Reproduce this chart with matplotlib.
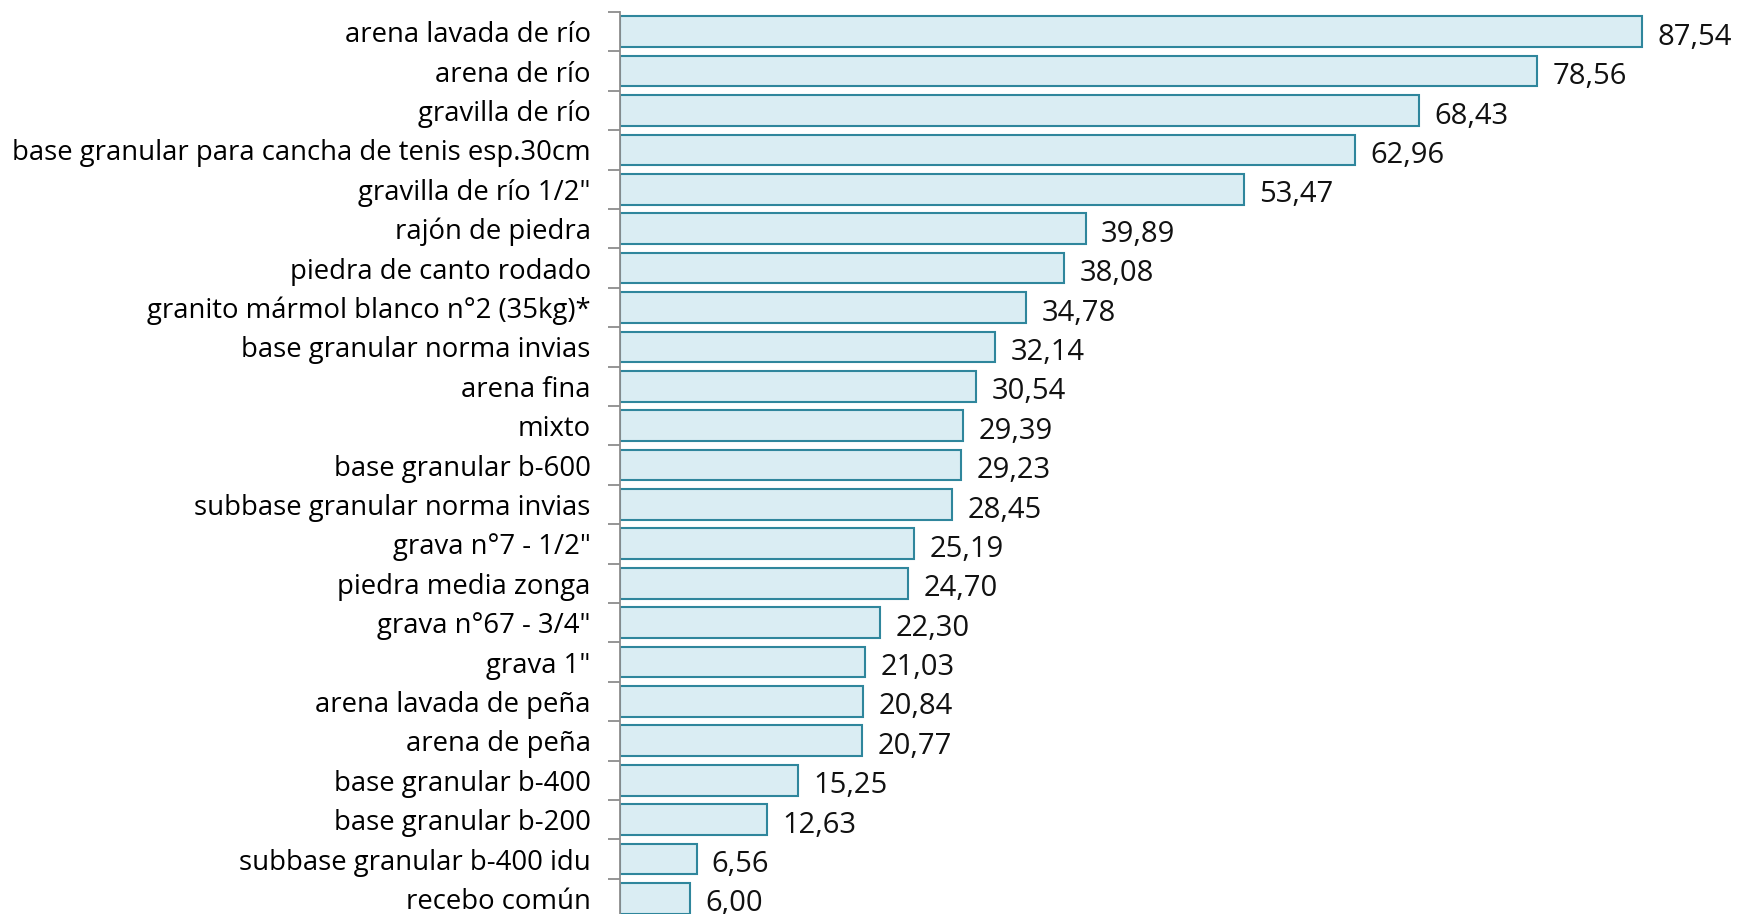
import matplotlib.pyplot as plt
from matplotlib.ticker import FixedLocator

plt.rcParams["font.family"] = ["Open Sans", "DejaVu Sans"]

materiales = [
    "arena lavada de río",
    "arena de río",
    "gravilla de río",
    "base granular para cancha de tenis esp.30cm",
    "gravilla de río 1/2\"",
    "rajón de piedra",
    "piedra de canto rodado",
    "granito mármol blanco n°2 (35kg)*",
    "base granular norma invias",
    "arena fina",
    "mixto",
    "base granular b-600",
    "subbase granular norma invias",
    "grava n°7 - 1/2\"",
    "piedra media zonga",
    "grava n°67 - 3/4\"",
    "grava 1\"",
    "arena lavada de peña",
    "arena de peña",
    "base granular b-400",
    "base granular b-200",
    "subbase granular b-400 idu",
    "recebo común",
]
valores = [87.54, 78.56, 68.43, 62.96, 53.47, 39.89, 38.08, 34.78, 32.14,
           30.54, 29.39, 29.23, 28.45, 25.19, 24.70, 22.30, 21.03, 20.84,
           20.77, 15.25, 12.63, 6.56, 6.00]


def main() -> None:
    fig = plt.figure(figsize=(17.37, 9.14), dpi=100)
    # axes runs slightly below the figure edge, like the cropped original
    ax = fig.add_axes([620 / 1737, -0.0045, 1 - 620 / 1737, 1 - 12 / 914 + 0.0045])

    n = len(materiales)
    pos = list(range(n))
    ax.barh(pos, valores, height=0.78, color="#DAEDF3",
            edgecolor="#2F869C", linewidth=1.5)

    ax.set_ylim(n - 0.5, -0.5)
    ax.set_xlim(0, 95.7)

    ax.set_yticks(pos)
    ax.set_yticklabels(materiales, fontsize=19.8)
    ax.tick_params(axis="y", which="major", length=0, pad=21)
    ax.yaxis.set_minor_locator(FixedLocator([i - 0.5 for i in range(n + 1)]))
    ax.tick_params(axis="y", which="minor", length=9, width=1.3, color="#8c8c8c")

    ax.set_xticks([])
    for side in ["top", "right", "bottom"]:
        ax.spines[side].set_visible(False)
    ax.spines["left"].set_color("#8c8c8c")
    ax.spines["left"].set_linewidth(1.3)

    for p, v in zip(pos, valores):
        txt = f"{v:.2f}".replace(".", ",")
        ax.annotate(txt, (v, p), xytext=(11, -4), textcoords="offset points",
                    va="center", ha="left", fontsize=21, color="#111111")

    fig.savefig("out.png", dpi=100)
    plt.close(fig)


if __name__ == "__main__":
    main()
